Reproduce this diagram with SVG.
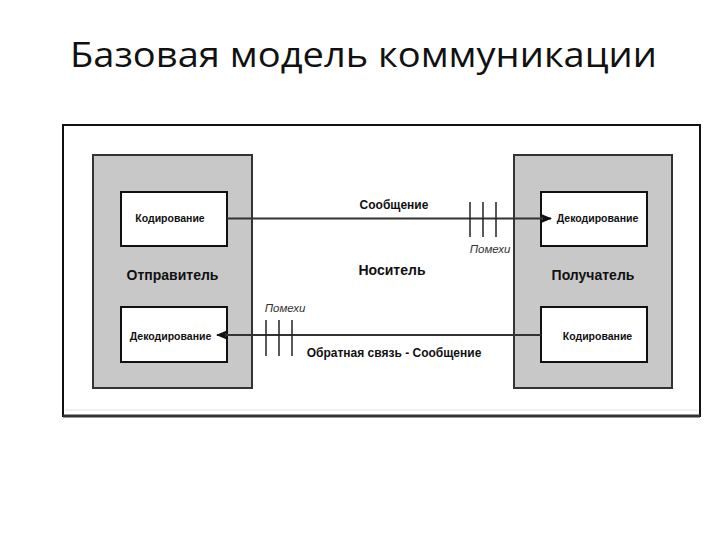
<svg xmlns="http://www.w3.org/2000/svg" width="720" height="540" viewBox="0 0 720 540">
<defs>
<style>
.title{font-family:"Open Sans","Liberation Sans",sans-serif;font-size:35px;fill:#111}
.outer{fill:#fff;stroke:#111;stroke-width:2}
.party{fill:#c8c8c8;stroke:#333;stroke-width:2}
.inner{fill:#fff;stroke:#111;stroke-width:2}
.lbl{font-family:"Liberation Sans",Arial,sans-serif;font-weight:bold;fill:#111}
.small{font-size:10.5px}
.mid{font-size:12px}
.big{font-size:14px}
.noise{font-family:"Liberation Sans",Arial,sans-serif;font-style:italic;font-size:11.5px;fill:#333}
.conn{stroke:#333;stroke-width:2;fill:none}
.tick{stroke:#222;stroke-width:1.5}
</style>
<marker id="ah" viewBox="0 0 12 10" refX="11" refY="5" markerWidth="12" markerHeight="10" markerUnits="userSpaceOnUse" orient="auto">
<path d="M0,0 L12,5 L0,10 L3,5 Z" fill="#111"/>
</marker>
</defs>
<rect width="720" height="540" fill="#fff"/>
<text class="title" x="70" y="67" textLength="587" lengthAdjust="spacingAndGlyphs">Базовая модель коммуникации</text>
<g id="frame">
<rect class="outer" x="63" y="125" width="637" height="291"/>
<line x1="63" y1="416" x2="700" y2="416" stroke="#333" stroke-width="3"/>
<line x1="65" y1="410" x2="698" y2="410" stroke="#e0e0e0" stroke-width="1"/>
</g>
<g id="sender">
<rect class="party" x="93" y="155" width="159" height="233"/>
<text class="lbl big" x="172.5" y="280" text-anchor="middle">Отправитель</text>
</g>
<g id="receiver">
<rect class="party" x="514" y="155" width="158" height="233"/>
<text class="lbl big" x="593" y="280" text-anchor="middle">Получатель</text>
</g>
<g id="sender-encode">
<rect class="inner" x="121" y="192" width="106" height="54"/>
<text class="lbl small" x="170" y="222" text-anchor="middle">Кодирование</text>
</g>
<g id="sender-decode">
<rect class="inner" x="121" y="307" width="106" height="55"/>
<text class="lbl small" x="170.5" y="340" text-anchor="middle">Декодирование</text>
</g>
<g id="receiver-decode">
<rect class="inner" x="541" y="192" width="106" height="54"/>
<text class="lbl small" x="597.5" y="222" text-anchor="middle">Декодирование</text>
</g>
<g id="receiver-encode">
<rect class="inner" x="541" y="307" width="106" height="55"/>
<text class="lbl small" x="597.5" y="340" text-anchor="middle">Кодирование</text>
</g>
<g id="connectors">
<line class="conn" x1="227" y1="218.5" x2="551" y2="218.5" marker-end="url(#ah)"/>
<line class="conn" x1="541" y1="335" x2="217" y2="335" marker-end="url(#ah)"/>
<line class="tick" x1="470" y1="202" x2="470" y2="237"/>
<line class="tick" x1="483" y1="202" x2="483" y2="237"/>
<line class="tick" x1="496" y1="202" x2="496" y2="237"/>
<line class="tick" x1="266" y1="320" x2="266" y2="356"/>
<line class="tick" x1="279" y1="320" x2="279" y2="356" stroke-width="2.5"/>
<line class="tick" x1="292" y1="320" x2="292" y2="356"/>
<text class="lbl mid" x="394" y="209" text-anchor="middle">Сообщение</text>
<text class="noise" x="490" y="253" text-anchor="middle">Помехи</text>
<text class="lbl big" x="392" y="275" text-anchor="middle">Носитель</text>
<text class="noise" x="285" y="312" text-anchor="middle">Помехи</text>
<text class="lbl mid" x="394" y="357" text-anchor="middle">Обратная связь - Сообщение</text>
</g>
</svg>
